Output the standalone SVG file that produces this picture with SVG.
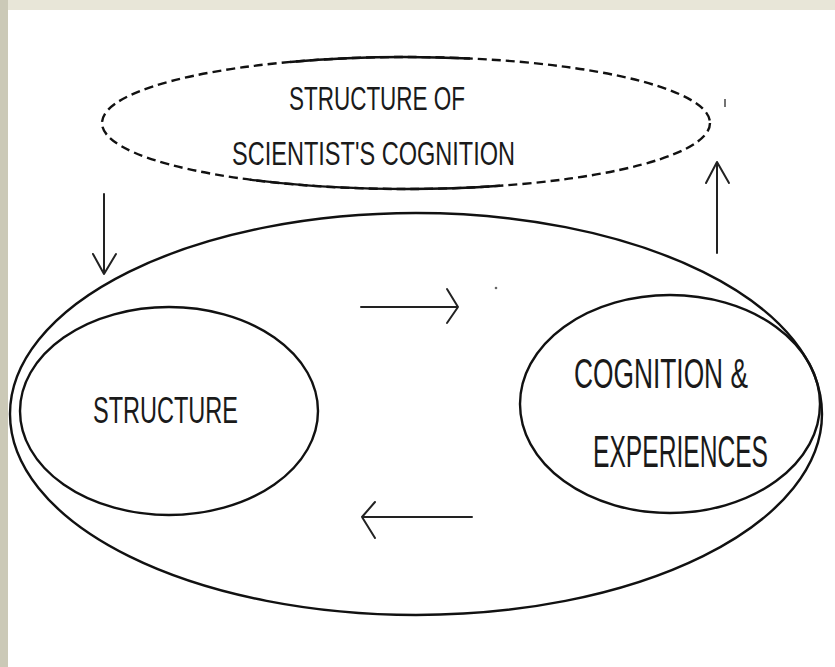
<svg xmlns="http://www.w3.org/2000/svg" width="835" height="667" viewBox="0 0 835 667">
<style>
.ln{fill:none;stroke:#111;stroke-width:2.4}
.ar{fill:none;stroke:#222;stroke-width:2;stroke-linecap:round;stroke-linejoin:round}
.tx{font-family:"Liberation Sans","DejaVu Sans",sans-serif;fill:#1a1a1a;font-weight:normal}
</style>
<rect x="0" y="0" width="835" height="667" fill="#e8e6d8"/>
<rect x="0" y="0" width="8" height="667" fill="#cbc9b7"/>
<rect x="8" y="10" width="827" height="657" fill="#ffffff"/>
<g id="top-node">
<ellipse class="ln" cx="406" cy="123" rx="304" ry="66" stroke-dasharray="9 5"/>
<path class="ln" d="M290,62 A304,66 0 0 1 470,58.5"/>
<path class="ln" d="M250,179.6 A304,66 0 0 0 500,185.8"/>
<text class="tx" x="289" y="110" font-size="34" textLength="176" lengthAdjust="spacingAndGlyphs">STRUCTURE OF</text>
<text class="tx" x="232" y="165" font-size="33" textLength="283" lengthAdjust="spacingAndGlyphs">SCIENTIST'S COGNITION</text>
</g>
<g id="outer-node">
<ellipse class="ln" cx="416" cy="414" rx="406" ry="201"/>
</g>
<g id="structure-node">
<ellipse class="ln" cx="169" cy="411" rx="149" ry="104"/>
<text class="tx" x="93" y="423" font-size="37" textLength="145" lengthAdjust="spacingAndGlyphs">STRUCTURE</text>
</g>
<g id="cognition-node">
<ellipse class="ln" cx="670" cy="404" rx="150" ry="109"/>
<text class="tx" x="574" y="388" font-size="43" textLength="174" lengthAdjust="spacingAndGlyphs">COGNITION &amp;</text>
<text class="tx" x="593" y="467" font-size="45" textLength="175" lengthAdjust="spacingAndGlyphs">EXPERIENCES</text>
</g>
<g id="connectors">
<path class="ar" d="M104,194 L104,274 M93,254 L104,274 L116,254"/>
<path class="ar" d="M717,253 L717,162 M706,183 L717,162 L729,183"/>
<path class="ar" d="M361,307 L458,307 M447,289 L458,307 L447,323"/>
<path class="ar" d="M472,517 L362,517 M375,502 L362,517 L375,538"/>
</g>
<path d="M725,99 L725,107" stroke="#444" stroke-width="1.5"/>
<circle cx="496" cy="288" r="1.3" fill="#666"/>
</svg>
